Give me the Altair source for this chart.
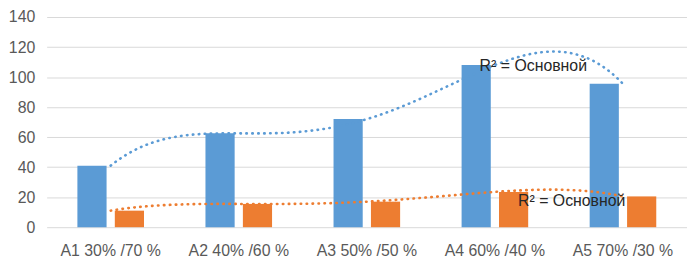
import altair as alt
import pandas as pd

categories = ["A1 30% /70 %", "A2 40% /60 %", "A3 50% /50 %", "A4 60% /40 %", "A5 70% /30 %"]
series_names = ["Ряд1", "Ряд2"]
series1 = [41, 62.5, 72, 108, 95.5]
series2 = [11, 15.5, 17, 23.5, 20.5]
colors = ["#5B9BD5", "#ED7D31"]

label_text = ["R² = Основной", "R² = Основной"]
label_x = [4.3, 4.6]
label_y = [107.5, 17.3]

rows = []
for i, c in enumerate(categories):
    rows.append({"cat": c, "idx": i + 1, "series": series_names[0], "value": series1[i]})
    rows.append({"cat": c, "idx": i + 1, "series": series_names[1], "value": series2[i]})
df = pd.DataFrame(rows)
labels = pd.DataFrame({"text": label_text, "x": label_x, "y": label_y})

FONT = "Liberation Sans"
W, H = 646, 212
yaxis = alt.Axis(values=list(range(0, 141, 20)), domain=False, ticks=False,
                 labelOverlap=False, labelFlush=False,
                 labelPadding=12, labelFontSize=16, labelColor="#595959",
                 labelFont=FONT, gridColor="#D9D9D9", gridWidth=1)
ycale = alt.Scale(domain=[0, 140], nice=False)
color_scale = alt.Scale(domain=series_names, range=colors)

bars = alt.Chart(df).mark_bar().encode(
    x=alt.X("cat:N", sort=categories, title=None,
            scale=alt.Scale(paddingInner=0.48, paddingOuter=0.24),
            axis=alt.Axis(labelAngle=0, domain=False, ticks=False, labelPadding=16,
                          labelFontSize=16, labelColor="#595959", labelFont=FONT)),
    xOffset=alt.XOffset("series:N", scale=alt.Scale(domain=series_names, paddingInner=0.22)),
    y=alt.Y("value:Q", scale=ycale, title=None, axis=yaxis),
    color=alt.Color("series:N", scale=color_scale, legend=None),
)

xq = alt.X("idx:Q", scale=alt.Scale(domain=[0.5, 5.5], nice=False, zero=False), axis=None)

trend = alt.Chart(df).transform_regression(
    "idx", "value", groupby=["series"], method="poly", order=4
).mark_line(strokeDash=[0.5, 5.5], strokeWidth=2.6, strokeCap="round").encode(
    x=xq,
    y=alt.Y("value:Q", scale=ycale, title=None, axis=yaxis),
    color=alt.Color("series:N", scale=color_scale, legend=None),
)

text = alt.Chart(labels).mark_text(fontSize=16, font=FONT, color="#262626").encode(
    x=alt.X("x:Q", scale=alt.Scale(domain=[0.5, 5.5], nice=False, zero=False), axis=None),
    y=alt.Y("y:Q", scale=ycale, title=None, axis=yaxis),
    text="text:N",
)

chart = alt.layer(bars, trend, text).resolve_scale(x="independent").properties(
    width=W, height=H, padding={"left": 0, "top": 0, "right": 0, "bottom": 0}
).configure_view(stroke=None)

chart.save("out.html", embed_options={"renderer": "svg", "actions": False})
